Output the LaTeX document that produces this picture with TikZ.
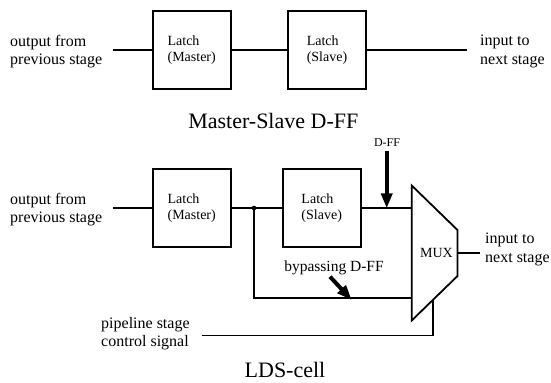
\documentclass[tikz,border=0pt]{standalone}
\usepackage{fontspec}
\setmainfont{Liberation Serif}
\usetikzlibrary{arrows.meta}
\tikzset{
  wire/.style={line width=1.8bp},
  latchbox/.style={draw, line width=1.8bp, minimum width=78bp, minimum height=77.5bp, align=left, inner sep=0pt, font=\fontsize{14bp}{15.7bp}\selectfont},
  sidetext/.style={align=left, inner sep=0pt, anchor=west, font=\fontsize{16bp}{18.5bp}\selectfont},
  captiontext/.style={inner sep=0pt, anchor=base, font=\fontsize{22bp}{26bp}\selectfont},
  bigarrow/.style={line width=4bp, -{Triangle[length=15bp,width=11bp]}}
}
\begin{document}
\begin{tikzpicture}[x=1bp,y=-1bp]
\useasboundingbox (0,0) rectangle (551,382);

\node[sidetext] (prev) at (10,51.5) {output from\\previous stage};
\node[latchbox] (master) at (191.7,50) {Latch\\(Master)};
\node[latchbox] (slave) at (327,50) {Latch\\(Slave)};
\node[sidetext] (next) at (480,51.5) {input to\\next stage};
\coordinate (preve) at (113,50);
\coordinate (nexte) at (466.7,50);
\node[captiontext] (msdff) at (273.3,128.3) {Master-Slave D-FF};

\draw[wire] (preve) -- (master);
\draw[wire] (master) -- (slave);
\draw[wire] (slave) -- (nexte);

\node[sidetext] (prevb) at (10,209.7) {output from\\previous stage};
\node[latchbox] (masterb) at (191.7,208) {Latch\\(Master)};
\node[latchbox] (slaveb) at (321.7,208) {Latch\\(Slave)};
\coordinate (prevbe) at (113,208);
\coordinate (junc) at (254,208);
\coordinate (muxtl) at (411.7,185.5);
\coordinate (muxtr) at (457.5,230);
\coordinate (muxbr) at (457.5,276);
\coordinate (muxbl) at (411.7,320.5);
\coordinate (muxin) at (411.7,208);
\coordinate (muxby) at (411.7,297.7);
\coordinate (muxout) at (457.5,253.3);
\coordinate (muxsel) at (433.3,299.5);
\node[inner sep=0pt, font=\fontsize{14bp}{16bp}\selectfont] (mux) at (436.5,253) {MUX};
\node[sidetext] (nextb) at (485,249.5) {input to\\next stage};
\coordinate (nextbe) at (480,253.3);
\node[sidetext] (ctrl) at (101,333.8) {pipeline stage\\control signal};
\coordinate (ctrle) at (201.7,335.5);
\node[inner sep=0pt, anchor=base, font=\fontsize{12bp}{14bp}\selectfont] (dff) at (387,146) {D-FF};
\coordinate (dfftop) at (386.7,151);
\coordinate (dfftip) at (386.7,208.3);
\node[inner sep=0pt, anchor=base, font=\fontsize{15.5bp}{18bp}\selectfont] (bypass) at (334,271) {bypassing D-FF};
\coordinate (bytop) at (330,276.7);
\coordinate (bytip) at (351.7,300);
\node[captiontext] (lds) at (285,377.5) {LDS-cell};

\draw[wire] (muxtl) -- (muxtr) -- (muxbr) -- (muxbl) -- cycle;
\draw[wire] (prevbe) -- (masterb);
\draw[wire] (masterb) -- (slaveb);
\draw[wire] (slaveb) -- (muxin);
\draw[wire] (junc) |- (muxby);
\fill (junc) circle (2.3bp);
\draw[wire] (muxout) -- (nextbe);
\draw[wire] (ctrle) -| (muxsel);
\draw[bigarrow] (dfftop) -- (dfftip);
\draw[bigarrow] (bytop) -- (bytip);
\end{tikzpicture}
\end{document}
